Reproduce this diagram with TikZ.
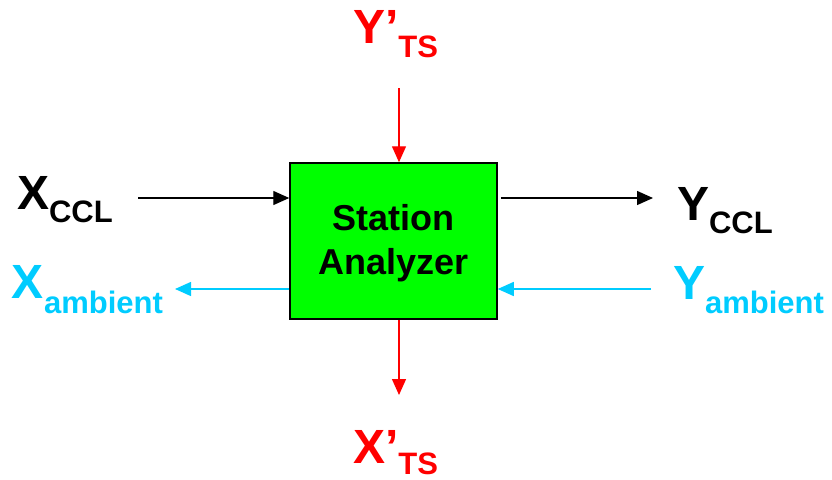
\documentclass[tikz,border=0pt]{standalone}
\usepackage{fontspec}
\setmainfont{Liberation Sans}
\usetikzlibrary{arrows.meta}
\definecolor{sared}{HTML}{FF0000}
\definecolor{sacyan}{HTML}{00CCFF}
\definecolor{sagreen}{HTML}{00FF00}
\newcommand{\sigl}[3][13pt]{\fontsize{48}{48}\selectfont\bfseries #2\raisebox{-#1}[0pt][0pt]{\fontsize{31}{31}\selectfont #3}}
\begin{document}
\begin{tikzpicture}[x=1pt,y=-1pt,
  lab/.style={anchor=base west,inner sep=0pt,outer sep=0pt},
  conn/.style={line width=1.4pt,-{Triangle[length=16pt,width=14pt]}},
  boxst/.style={draw=black,line width=1.5pt,fill=sagreen,minimum width=207pt,minimum height=156pt,inner sep=0pt}]
\useasboundingbox (0,0) rectangle (832,479);
\node[boxst] (box) at (393.5,241) {};
\node[align=center,inner sep=0pt,font=\fontsize{36}{44}\selectfont\bfseries] (boxlabel) at (393.5,243) {Station\\Analyzer};
% labels
\node[lab] (xccl) at (17,209) {\sigl{X}{CCL}};
\node[lab] (yccl) at (677,220) {\sigl{Y}{CCL}};
\node[lab,text=sacyan] (xamb) at (12,298) {\sigl[15pt]{X}{ambient}};
\node[lab,text=sacyan] (yamb) at (673,299) {\sigl[14pt]{Y}{ambient}};
\node[lab,text=sared] (yts) at (353,43) {\sigl[14pt]{Y’}{TS}};
\node[lab,text=sared] (xts) at (353,463) {\sigl[11pt]{X’}{TS}};
% connector ends
\coordinate (c1) at (138,198);
\coordinate (c2) at (653,198);
\coordinate (c3) at (175,289);
\coordinate (c4) at (651,289);
\coordinate (c5) at (399,88);
\coordinate (c6) at (399,395);
\draw[conn,black] (c1) -- (c1 -| box.west);
\draw[conn,black] (c1 -| box.east) ++(3,0) -- (c2);
\draw[conn,sacyan] (c3 -| box.west) -- (c3);
\draw[conn,sacyan] (c4) -- (c4 -| box.east);
\draw[conn,sared] (c5) -- (c5 |- box.north);
\draw[conn,sared] (c6 |- box.south) -- (c6);
\end{tikzpicture}
\end{document}
